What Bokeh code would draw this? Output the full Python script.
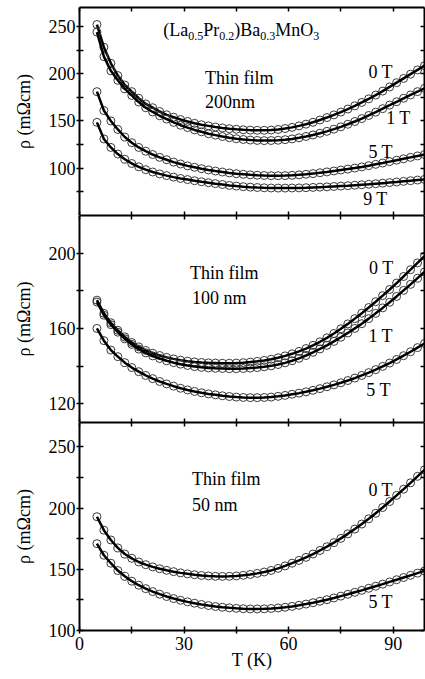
from bokeh.plotting import figure
from bokeh.models import LinearAxis, FixedTicker, Label, Range1d, CustomLabelingPolicy
from bokeh.layouts import column
from bokeh.embed import file_html
from bokeh.resources import INLINE

# ---------------- data ----------------
T = [5, 7, 9, 11, 13, 15, 17, 19, 21, 23, 25, 27, 29, 31, 33, 35, 37, 39, 41, 43,
     45, 47, 49, 51, 53, 55, 57, 59, 61, 63, 65, 67, 69, 71, 73, 75, 77, 79, 81, 83,
     85, 87, 89, 91, 93, 95, 97, 99]

# 200 nm film
f200_0T = [252, 228, 211, 198, 188, 181, 174, 168, 164, 160, 156.5, 154, 151.5, 149.5, 147.5,
           146, 144.8, 143.6, 142.6, 141.8, 141.2, 140.7, 140.3, 140.1, 140.1, 140.4, 141, 142,
           143.2, 144.8, 146.6, 148.6, 151, 153.6, 156.4, 159.4, 162.6, 166, 169.6, 173.4,
           177.4, 181.6, 186, 190.5, 195, 199.5, 204, 208.5]
f200_1T = [244, 218, 203, 193, 184, 177, 170, 164, 159.5, 155.5, 152, 148.5, 145.5, 143, 140.5,
           138.5, 136.5, 135, 133.5, 132.3, 131.2, 130.4, 129.8, 129.4, 129.2, 129.3, 129.6,
           130.2, 131, 132.2, 133.6, 135.2, 137, 139, 141.3, 143.8, 146.5, 149.4, 152.5, 155.8,
           159.3, 163, 166.8, 170.3, 174, 177.5, 181, 184.5]
f200_5T = [181, 161, 150, 141, 133, 127, 122, 118, 114.5, 111.5, 109, 106.5, 104.5, 102.5, 101,
           99.5, 98.2, 97, 96, 95, 94.2, 93.6, 93, 92.6, 92.3, 92.1, 92.1, 92.2, 92.5, 93, 93.6,
           94.3, 95.2, 96.1, 97.1, 98.1, 99.1, 100.2, 101.4, 102.7, 104.1, 105.5, 107, 108.5,
           110, 111.5, 113, 114.5]
f200_9T = [148.5, 131, 122, 115, 109.5, 105, 101.5, 98.5, 96, 94, 92.2, 90.6, 89.2, 88, 86.8,
           85.7, 84.7, 83.7, 82.8, 81.8, 81.1, 80.5, 80, 79.6, 79.3, 79.1, 79, 79, 79.1, 79.2,
           79.4, 79.7, 80, 80.3, 80.7, 81.1, 81.5, 82, 82.5, 83, 83.6, 84.2, 84.8, 85.4, 86.1,
           86.8, 87.5, 88.2]

# 100 nm film
f100_0T = [175, 168, 163, 159, 155.5, 152.5, 150.2, 148.3, 146.8, 145.6, 144.6, 143.8, 143.1,
           142.6, 142.2, 141.9, 141.7, 141.6, 141.5, 141.5, 141.6, 141.8, 142.1, 142.5, 143,
           143.6, 144.4, 145.4, 146.5, 147.8, 149.3, 151, 152.9, 155, 157.3, 159.8, 162.4,
           165.2, 168.1, 171.1, 174.2, 177.4, 180.7, 184.1, 187.6, 191.2, 194.8, 198.4]
f100_1T = [174, 167, 162, 158, 154.5, 151.5, 149, 147, 145.4, 144, 142.8, 141.8, 141, 140.3,
           139.7, 139.3, 139, 138.8, 138.7, 138.6, 138.6, 138.7, 138.9, 139.2, 139.6, 140.1,
           140.8, 141.7, 142.8, 144.1, 145.6, 147.3, 149.1, 151, 153.1, 155.3, 157.6, 160,
           162.5, 165.2, 168, 170.9, 173.9, 177, 180.2, 183.4, 186.7, 190]
f100_5T = [160, 153.5, 148.5, 145, 141.8, 139.2, 137, 135, 133.3, 131.8, 130.5, 129.3, 128.2,
           127.3, 126.5, 125.8, 125.2, 124.7, 124.2, 123.8, 123.5, 123.3, 123.2, 123.2, 123.3,
           123.5, 123.9, 124.4, 125, 125.6, 126.3, 127.1, 128, 129, 130, 131.1, 132.3, 133.6,
           135, 136.5, 138.1, 139.8, 141.6, 143.5, 145.5, 147.6, 149.8, 152]

# 50 nm film
f50_0T = [193, 182, 174, 167.5, 162.5, 159, 156, 153.8, 152, 150.5, 149.2, 148.1, 147.1, 146.3,
          145.6, 145, 144.6, 144.3, 144.2, 144.3, 144.6, 145.1, 145.8, 146.7, 147.8, 149.1,
          150.8, 152.8, 155, 157.3, 159.8, 162.5, 165.4, 168.5, 171.8, 175.3, 179, 182.9, 187,
          191.3, 195.8, 200.5, 205.4, 210.4, 215.5, 220.7, 226, 231.3]
f50_5T = [171, 161.5, 155, 149, 144.3, 140.3, 137, 134.2, 131.8, 129.7, 127.8, 126.1, 124.7,
          123.4, 122.3, 121.3, 120.4, 119.6, 119, 118.5, 118.1, 117.8, 117.6, 117.6, 117.7, 118,
          118.4, 119, 119.7, 120.6, 121.6, 122.7, 123.9, 125.2, 126.6, 128.1, 129.6, 131.2,
          132.8, 134.5, 136.2, 137.9, 139.7, 141.5, 143.3, 145.1, 146.9, 148.7]

x_major = [0, 30, 60, 90]
x_minor = [15, 45, 75]
x_tick_labels = ["0", "30", "60", "90"]
y_label = "ρ (mΩcm)"
x_label = "T (K)"

FONT = "Liberation Serif"
FS = "18px"
SUB = "12px"

NO_LABELS = "return new Set()"


def style_axis(ax, major, minor, show_labels, tin, tout):
    ax.ticker = FixedTicker(ticks=major, minor_ticks=minor)
    ax.axis_line_width = 2
    ax.axis_line_color = "black"
    ax.major_tick_line_width = 1.5
    ax.minor_tick_line_width = 1.5
    ax.major_tick_line_color = "black"
    ax.minor_tick_line_color = "black"
    ax.major_tick_in = tin
    ax.major_tick_out = tout
    ax.minor_tick_in = tin
    ax.minor_tick_out = tout
    ax.major_label_text_font = FONT
    ax.major_label_text_color = "black"
    ax.major_label_text_font_style = "normal"
    if show_labels:
        ax.major_label_text_font_size = FS
    else:
        ax.major_label_text_font_size = "0px"
        ax.major_label_standoff = 0
        ax.major_label_policy = CustomLabelingPolicy(code=NO_LABELS)


def make_panel(yr, ymajor, yminor, height, btop, bbot, bottom_labels):
    p = figure(width=425, height=height, x_range=Range1d(0, 99), y_range=Range1d(*yr),
               output_backend="svg", toolbar_location=None,
               min_border_left=79, min_border_right=1,
               min_border_top=btop, min_border_bottom=bbot)
    p.grid.visible = False
    p.outline_line_color = None
    p.background_fill_color = "white"
    p.border_fill_color = "white"

    xa = p.xaxis[0]
    style_axis(xa, x_major, x_minor, bottom_labels, 4, 3 if bottom_labels else 0)
    if bottom_labels:
        xa.major_label_standoff = 3
        xa.major_label_overrides = {t: s for t, s in zip(x_major, x_tick_labels)}
        xa.axis_label = x_label
        xa.axis_label_text_font = FONT
        xa.axis_label_text_font_size = FS
        xa.axis_label_text_font_style = "normal"
        xa.axis_label_text_color = "black"
        xa.axis_label_standoff = -3

    ya = p.yaxis[0]
    style_axis(ya, ymajor, yminor, True, 4, 3)
    ya.major_label_standoff = 1
    ya.axis_label = y_label
    ya.axis_label_text_font = FONT
    ya.axis_label_text_font_size = FS
    ya.axis_label_text_font_style = "normal"
    ya.axis_label_text_color = "black"
    ya.axis_label_standoff = 12

    top = LinearAxis()
    style_axis(top, x_major, x_minor, False, 4, 0)
    p.add_layout(top, "above")
    right = LinearAxis()
    style_axis(right, ymajor, yminor, False, 4, 0)
    p.add_layout(right, "right")
    return p


def draw(p, ys):
    p.scatter(T, ys, marker="circle", size=8, fill_color=None,
              line_color="#3a3a3a", line_width=1)
    p.line(T, ys, line_color="black", line_width=2.5)


def txt(p, x, y, s, size=FS, xo=0, yo=0):
    p.add_layout(Label(x=x, y=y, text=s, x_offset=xo, y_offset=yo,
                       text_font=FONT, text_font_size=size, text_color="black",
                       text_baseline="middle", text_align="left"))


# ---------------- panel 1: 200 nm ----------------
p1 = make_panel((50, 270), [100, 150, 200, 250], [75, 125, 175, 225], 215, 7, 0, False)
for ys in (f200_0T, f200_1T, f200_5T, f200_9T):
    draw(p1, ys)
pieces = [("(La", 0, False), ("0.5", 25, True), ("Pr", 40, False), ("0.2", 56, True),
          (")Ba", 71, False), ("0.3", 97, True), ("MnO", 112, False), ("3", 150, True)]
for s, xo, sub in pieces:
    txt(p1, 24, 245.8, s, SUB if sub else FS, xo, -6 if sub else 0)
txt(p1, 36, 195, "Thin film")
txt(p1, 36, 170.5, "200nm")
txt(p1, 82.9, 202.3, "0 T")
txt(p1, 88, 153.6, "1 T")
txt(p1, 82.9, 117.6, "5 T")
txt(p1, 81.4, 67.8, "9 T")

# ---------------- panel 2: 100 nm ----------------
p2 = make_panel((110, 220), [120, 160, 200], [140, 180], 207, 0, 0, False)
for ys in (f100_0T, f100_1T, f100_5T):
    draw(p2, ys)
txt(p2, 31.7, 189.6, "Thin film")
txt(p2, 32.3, 176.3, "100 nm")
txt(p2, 83.1, 192.2, "0 T")
txt(p2, 82.9, 156.2, "1 T")
txt(p2, 82.3, 127.1, "5 T")

# ---------------- panel 3: 50 nm ----------------
p3 = make_panel((100, 270), [100, 150, 200, 250], [125, 175, 225], 257, 0, 49, True)
for ys in (f50_0T, f50_5T):
    draw(p3, ys)
txt(p3, 32.3, 223.6, "Thin film")
txt(p3, 32.3, 202.3, "50 nm")
txt(p3, 82.9, 214.6, "0 T")
txt(p3, 82.9, 123, "5 T")

layout = column(p1, p2, p3, spacing=0)
open("out.html", "w").write(file_html(layout, INLINE))
